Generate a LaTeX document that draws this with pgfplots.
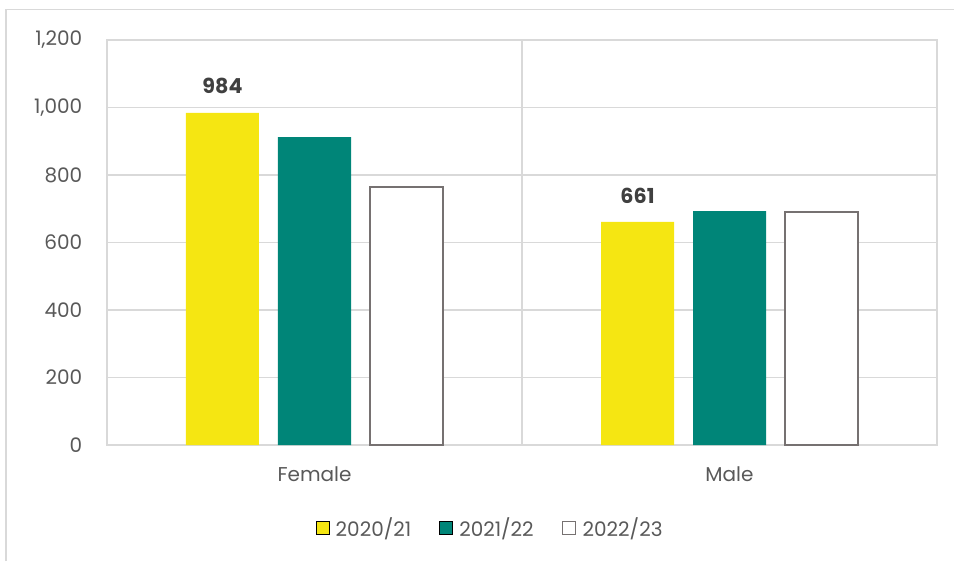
\documentclass[border=0pt]{standalone}
\usepackage{pgfplots}
\pgfplotsset{compat=1.18}
\usepackage{fontspec}
\setmainfont{Poppins}
\definecolor{cyel}{RGB}{245,230,18}
\definecolor{cteal}{RGB}{0,133,120}
\definecolor{cgrid}{RGB}{217,217,217}
\definecolor{ctext}{RGB}{89,89,89}
\definecolor{cborder}{RGB}{118,113,113}
\definecolor{clabel}{RGB}{64,64,64}
\begin{document}
\begin{tikzpicture}
\path[use as bounding box] (-80.25pt,-87pt) rectangle (635.25pt,333.75pt);
\draw[cgrid, line width=1.1pt] (-75.75pt,-87pt) -- (-75.75pt,326.6pt) -- (635.25pt,326.6pt);
\begin{axis}[
 at={(0pt,0pt)}, anchor=south west,
 scale only axis, width=622.5pt, height=303.75pt,
 ybar=14.25pt, bar width=54.75pt,
 xmin=-0.5, xmax=1.5, ymin=0, ymax=1200,
 xtick={0,1}, xticklabels={Female,Male},
 ytick={0,200,...,1200},
 ymajorgrids, grid style={cgrid, line width=0.8pt},
 extra x ticks={0.5}, extra x tick labels={{}}, extra x tick style={grid=major},
 axis line style={cgrid, line width=0.8pt},
 major tick length=0pt,
 tick label style={font=\fontsize{15}{17}\selectfont, text=ctext},
 /pgf/number format/1000 sep={,},
 /pgf/number format/assume math mode=true,
 yticklabel style={xshift=-15pt},
 xticklabel style={yshift=-13pt},
 legend style={draw=none, fill=none, at={(0.462,0)}, anchor=center, yshift=-62.25pt,
   legend columns=3, font=\fontsize{15}{17}\selectfont, text=ctext,
   /tikz/column 1/.style={column sep=3pt},
   /tikz/column 2/.style={column sep=19pt},
   /tikz/column 3/.style={column sep=3pt},
   /tikz/column 4/.style={column sep=19pt},
   /tikz/column 5/.style={column sep=3pt}},
 legend cell align=left,
 legend image code/.code={\draw[#1] (0pt,-4.8pt) rectangle (9.6pt,4.8pt);},
]
\addplot[fill=cyel, draw=none, nodes near coords,
  nodes near coords style={font=\bfseries\fontsize{15.5}{18}\selectfont, text=clabel, yshift=10.5pt}]
  coordinates {(0,984) (1,661)};
\addplot[fill=cteal, draw=none] coordinates {(0,912) (1,693)};
\addplot[fill=white, draw=cborder, line width=1.1pt] coordinates {(0,765) (1,690)};
\legend{2020/21, 2021/22, 2022/23}
\end{axis}
\end{tikzpicture}
\end{document}
